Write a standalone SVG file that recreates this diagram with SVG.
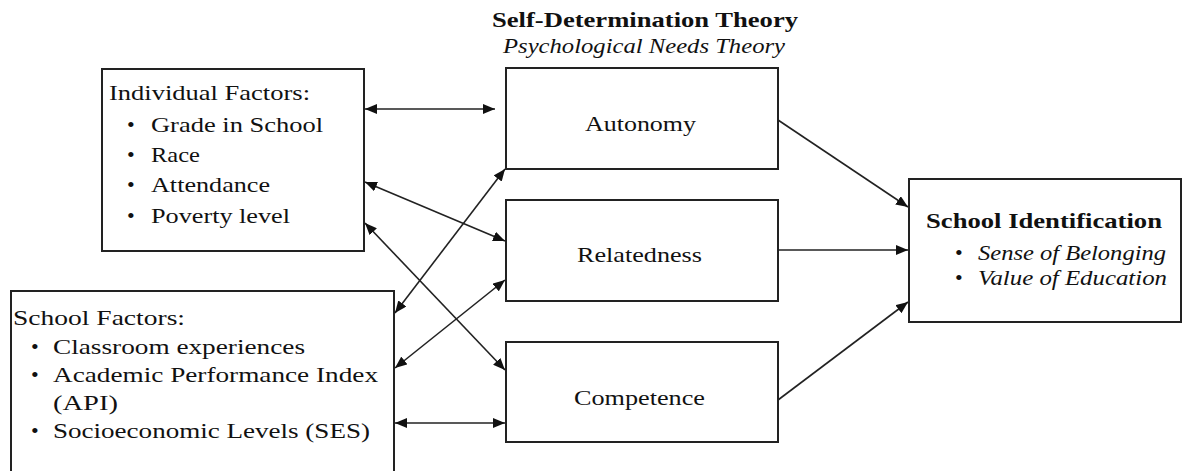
<svg xmlns="http://www.w3.org/2000/svg" width="1182" height="471" viewBox="0 0 1182 471">
<style>
.bx{fill:#fff;stroke:#222;stroke-width:2}
text{font-family:'Liberation Serif','DejaVu Serif',serif;font-size:22px;fill:#111}
.b{font-weight:bold}
.i{font-style:italic}
.c{text-anchor:middle}
.ln{stroke:#222;stroke-width:1.6;fill:none}
</style>
<defs>
<marker id="ah" viewBox="0 0 12 10" refX="12" refY="5" markerWidth="12" markerHeight="10" markerUnits="userSpaceOnUse" orient="auto-start-reverse">
<path d="M0,0 L12,5 L0,10 Z" fill="#111"/>
</marker>
</defs>
<rect width="1182" height="471" fill="#fff"/>
<g id="title">
<text class="b" x="492" y="27" textLength="306" lengthAdjust="spacingAndGlyphs">Self-Determination Theory</text>
<text class="i" x="503" y="53" textLength="282" lengthAdjust="spacingAndGlyphs">Psychological Needs Theory</text>
</g>
<g id="individual">
<rect class="bx" x="102" y="69" width="262" height="182"/>
<text x="109" y="100" textLength="201" lengthAdjust="spacingAndGlyphs">Individual Factors:</text>
<text x="127" y="132">•</text><text x="151" y="132" textLength="172" lengthAdjust="spacingAndGlyphs">Grade in School</text>
<text x="127" y="162">•</text><text x="151" y="162" textLength="49" lengthAdjust="spacingAndGlyphs">Race</text>
<text x="127" y="192">•</text><text x="151" y="192" textLength="119" lengthAdjust="spacingAndGlyphs">Attendance</text>
<text x="127" y="223">•</text><text x="151" y="223" textLength="139" lengthAdjust="spacingAndGlyphs">Poverty level</text>
</g>
<g id="school">
<rect class="bx" x="11" y="291" width="383" height="190"/>
<text x="13" y="325" textLength="172" lengthAdjust="spacingAndGlyphs">School Factors:</text>
<text x="31" y="354">•</text><text x="53" y="354" textLength="252" lengthAdjust="spacingAndGlyphs">Classroom experiences</text>
<text x="31" y="382">•</text><text x="53" y="382" textLength="325" lengthAdjust="spacingAndGlyphs">Academic Performance Index</text>
<text x="53" y="410" textLength="65" lengthAdjust="spacingAndGlyphs">(API)</text>
<text x="31" y="438">•</text><text x="53" y="438" textLength="317" lengthAdjust="spacingAndGlyphs">Socioeconomic Levels (SES)</text>
</g>
<g id="autonomy">
<rect class="bx" x="506" y="68" width="272" height="101"/>
<text x="585" y="131" textLength="111" lengthAdjust="spacingAndGlyphs">Autonomy</text>
</g>
<g id="relatedness">
<rect class="bx" x="506" y="200" width="272" height="101"/>
<text x="577" y="262" textLength="125" lengthAdjust="spacingAndGlyphs">Relatedness</text>
</g>
<g id="competence">
<rect class="bx" x="506" y="342" width="272" height="100"/>
<text x="574" y="405" textLength="131" lengthAdjust="spacingAndGlyphs">Competence</text>
</g>
<g id="identification">
<rect class="bx" x="909" y="179" width="272" height="143"/>
<text class="b" x="926" y="228" textLength="236" lengthAdjust="spacingAndGlyphs">School Identification</text>
<text x="955" y="260">•</text><text class="i" x="978" y="260" textLength="188" lengthAdjust="spacingAndGlyphs">Sense of Belonging</text>
<text x="955" y="285">•</text><text class="i" x="978" y="285" textLength="189" lengthAdjust="spacingAndGlyphs">Value of Education</text>
</g>
<g id="connectors">
<line class="ln" x1="365" y1="109" x2="495" y2="109" marker-start="url(#ah)" marker-end="url(#ah)"/>
<line class="ln" x1="365" y1="182" x2="505" y2="241" marker-start="url(#ah)" marker-end="url(#ah)"/>
<line class="ln" x1="365" y1="223" x2="505" y2="370" marker-start="url(#ah)" marker-end="url(#ah)"/>
<line class="ln" x1="395" y1="313" x2="505" y2="169" marker-start="url(#ah)" marker-end="url(#ah)"/>
<line class="ln" x1="395" y1="368" x2="505" y2="280" marker-start="url(#ah)" marker-end="url(#ah)"/>
<line class="ln" x1="395" y1="423" x2="505" y2="423" marker-start="url(#ah)" marker-end="url(#ah)"/>
<line class="ln" x1="778" y1="120" x2="908" y2="207" marker-end="url(#ah)"/>
<line class="ln" x1="778" y1="250" x2="908" y2="250" marker-end="url(#ah)"/>
<line class="ln" x1="778" y1="400" x2="908" y2="302" marker-end="url(#ah)"/>
</g>
</svg>
